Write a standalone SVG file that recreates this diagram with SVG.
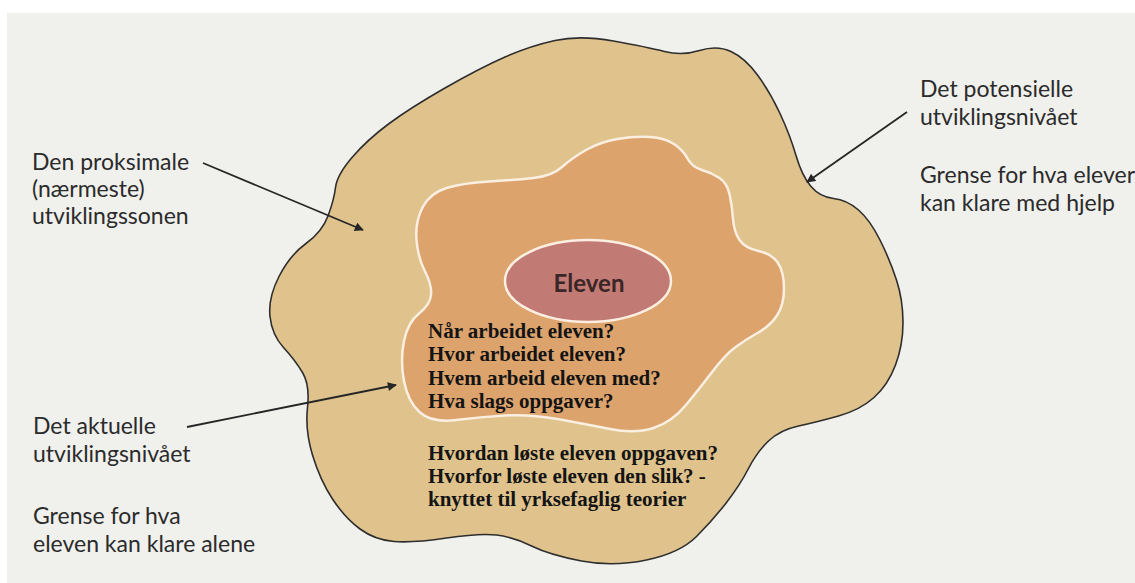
<svg xmlns="http://www.w3.org/2000/svg" width="1135" height="583" viewBox="0 0 1135 583">
<style>
.lbl{font-family:Lato,"Open Sans","Liberation Sans",sans-serif;font-size:23px;fill:#2b2b2b}
.q{font-family:"Liberation Serif","Times New Roman",serif;font-weight:bold;font-size:21px;fill:#141414}
.conn{stroke:#262626;stroke-width:1.8;fill:none}
</style>
<defs>
<marker id="ah" viewBox="0 0 10 10" refX="9" refY="5" markerWidth="6" markerHeight="5" orient="auto" markerUnits="strokeWidth">
<path d="M0,0 L10,5 L0,10 Z" fill="#262626"/>
</marker>
</defs>
<rect x="0" y="0" width="1135" height="583" fill="#ffffff"/>
<rect x="7" y="13" width="1128" height="570" fill="#f0f0ed"/>
<g id="outer-zone">
<path d="M 613.5,41 Q 647,47 664.5,51.5 Q 682,56 699.5,50.5 Q 717,45 731,51.5 Q 745,58 757.5,75 Q 770,92 780,113.5 Q 790,135 796,155.5 Q 802,176 811,186.5 Q 820,197 833.5,198.5 Q 847,200 858.5,210 Q 870,220 880,240 Q 890,260 896.5,280 Q 903,300 903,322.5 Q 903,345 895.5,365 Q 888,385 874,397.5 Q 860,410 838.5,416 Q 817,422 798.5,426 Q 780,430 768.5,441 Q 757,452 748.5,468.5 Q 740,485 726.5,502.5 Q 713,520 696.5,536.5 Q 680,553 646.5,560 Q 613,567 581.5,561 Q 550,555 531.5,546 Q 513,537 496.5,535 Q 480,533 446.5,538 Q 413,543 394,541.5 Q 375,540 360,529 Q 345,518 332.5,499 Q 320,480 312.5,455 Q 305,430 307.5,407.5 Q 310,385 302.5,372.5 Q 295,360 283.5,347.5 Q 272,335 270,316.5 Q 268,298 279,276.5 Q 290,255 306,243.5 Q 322,232 328,216 Q 334,200 335.5,187.5 Q 337,175 352,157.5 Q 367,140 388.5,124 Q 410,108 445,88 Q 480,68 505,57 Q 530,46 555,40.5 Q 580,35 613.5,41 Z" fill="#dfc28c" stroke="#2e2e2e" stroke-width="1.6"/>
</g>
<g id="inner-zone">
<path d="M 446.5,188 Q 463,183 489,181.5 Q 515,180 533.5,178 Q 552,176 562,167 Q 572,158 586,150 Q 600,142 617.5,139 Q 635,136 650,137 Q 665,138 674,144 Q 683,150 687.5,158.5 Q 692,167 702,170 Q 712,173 719.5,178 Q 727,183 729.5,194 Q 732,205 733,218.5 Q 734,232 739.5,240 Q 745,248 758.5,251 Q 772,254 778,263 Q 784,272 784,288.5 Q 784,305 777,315.5 Q 770,326 757.5,333 Q 745,340 735,347.5 Q 725,355 712.5,371.5 Q 700,388 686,405 Q 672,422 653.5,428 Q 635,434 610,429 Q 585,424 557.5,419 Q 530,414 505,415.5 Q 480,417 456,420 Q 432,423 420,412.5 Q 408,402 404,381 Q 400,360 404,341 Q 408,322 419,313.5 Q 430,305 431,295 Q 432,285 425,271.5 Q 418,258 416.5,240 Q 415,222 422.5,207.5 Q 430,193 446.5,188 Z" fill="#dca36d" stroke="#fbefe2" stroke-width="2.5"/>
</g>
<g id="eleven">
<ellipse cx="588" cy="281" rx="83" ry="41" fill="#c27a74" stroke="#fbefe2" stroke-width="2.5"/>
<text x="589" y="292" text-anchor="middle" font-family="Lato,'Open Sans','Liberation Sans',sans-serif" font-weight="bold" font-size="24" fill="#3a2626">Eleven</text>
</g>
<g id="questions">
<text class="q" x="428" y="338">Når arbeidet eleven?</text>
<text class="q" x="428" y="361">Hvor arbeidet eleven?</text>
<text class="q" x="428" y="385">Hvem arbeid eleven med?</text>
<text class="q" x="428" y="408">Hva slags oppgaver?</text>
<text class="q" x="428" y="460">Hvordan løste eleven oppgaven?</text>
<text class="q" x="428" y="483">Hvorfor løste eleven den slik? -</text>
<text class="q" x="428" y="506">knyttet til yrksefaglig teorier</text>
</g>
<g id="label-proksimal">
<text class="lbl" x="32" y="170">Den proksimale</text>
<text class="lbl" x="32" y="197">(nærmeste)</text>
<text class="lbl" x="32" y="224">utviklingssonen</text>
</g>
<g id="label-potensielle">
<text class="lbl" x="920" y="97">Det potensielle</text>
<text class="lbl" x="920" y="125">utviklingsnivået</text>
<text class="lbl" x="920" y="183">Grense for hva elever</text>
<text class="lbl" x="920" y="211">kan klare med hjelp</text>
</g>
<g id="label-aktuelle">
<text class="lbl" x="33" y="434">Det aktuelle</text>
<text class="lbl" x="33" y="462">utviklingsnivået</text>
<text class="lbl" x="33" y="524">Grense for hva</text>
<text class="lbl" x="33" y="552">eleven kan klare alene</text>
</g>
<g id="connectors">
<line class="conn" x1="203" y1="163" x2="363" y2="230" marker-end="url(#ah)"/>
<line class="conn" x1="907" y1="112" x2="807" y2="182" marker-end="url(#ah)"/>
<line class="conn" x1="187" y1="427" x2="396" y2="385" marker-end="url(#ah)"/>
</g>
</svg>
